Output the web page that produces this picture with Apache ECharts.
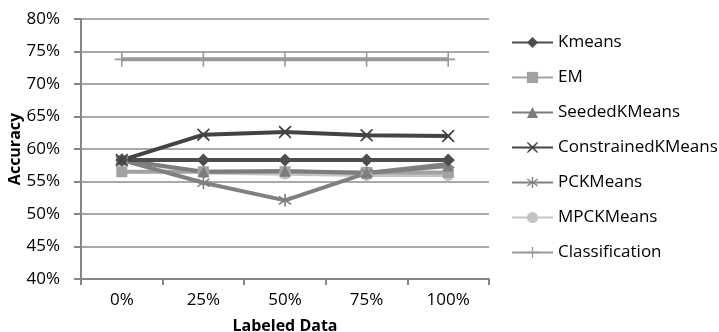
<!DOCTYPE html>
<html>
<head>
<meta charset="utf-8">
<script src="https://cdn.jsdelivr.net/npm/echarts@6/dist/echarts.min.js"></script>
<style>
  html, body { margin: 0; padding: 0; background: #fff; }
  #chart { width: 719px; height: 332px; }
</style>
</head>
<body>
<div id="chart"></div>
<script>
// Accuracy (%) per method at each share of labeled data
const categories = ['0%', '25%', '50%', '75%', '100%'];
const kmeans = [58.3, 58.3, 58.3, 58.3, 58.3];
const em = [56.5, 56.5, 56.5, 56.4, 56.4];
const seededKMeans = [58.3, 56.5, 56.6, 56.3, 57.4];
const constrainedKMeans = [58.3, 62.2, 62.6, 62.1, 62.0];
const pckMeans = [58.3, 54.8, 52.1, 56.3, 57.7];
const mpckMeans = [58.3, 56.4, 56.2, 56.0, 56.0];
const classification = [73.8, 73.8, 73.8, 73.8, 73.8];

// Marker shapes
const crossPath = 'path://M1,0L6,4.6L11,0L12,1L7.4,6L12,11L11,12L6,7.4L1,12L0,11L4.6,6L0,1Z';
const starPath = 'path://M5.3,0H6.7V4.8L10.9,1.8L11.7,2.9L7.6,6L11.7,9.1L10.9,10.2L6.7,7.2V12H5.3V7.2L1.1,10.2L0.3,9.1L4.4,6L0.3,2.9L1.1,1.8L5.3,4.8Z';
const plusPath = 'path://M6.2,0H7.8V6.2H14V7.8H7.8V14H6.2V7.8H0V6.2H6.2Z';

const FONT = 'Open Sans, Liberation Sans, sans-serif';

function line(name, data, color, symbol, size, width) {
  return {
    name, type: 'line', data,
    symbol, symbolSize: size,
    showAllSymbol: true,
    lineStyle: { color, width: width || 4 },
    itemStyle: { color, borderWidth: 0 },
    emphasis: { disabled: true },
    animation: false
  };
}

const chart = echarts.init(document.getElementById('chart'));
chart.setOption({
  backgroundColor: '#ffffff',
  textStyle: { fontFamily: FONT },
  grid: { left: 81, right: 230, top: 19, bottom: 53, containLabel: false, outerBoundsMode: 'none' },
  legend: {
    orient: 'vertical',
    left: 511,
    top: 34,
    padding: 0,
    itemWidth: 41,
    itemHeight: 14,
    itemGap: 18,
    textStyle: { fontSize: 17, fontFamily: FONT, color: '#000' },
    data: ['Kmeans', 'EM', 'SeededKMeans', 'ConstrainedKMeans', 'PCKMeans', 'MPCKMeans', 'Classification']
  },
  xAxis: {
    type: 'category',
    data: categories,
    boundaryGap: true,
    name: 'Labeled Data',
    nameLocation: 'middle',
    nameGap: 39,
    nameTextStyle: { fontSize: 16, fontWeight: 'bold', color: '#000', fontFamily: FONT },
    axisLine: { lineStyle: { color: '#868686', width: 2 } },
    axisTick: { show: true, length: 6, interval: 0, lineStyle: { color: '#868686', width: 2 } },
    axisLabel: { fontSize: 17, color: '#000', margin: 13, fontFamily: FONT },
    splitLine: { show: false }
  },
  yAxis: {
    type: 'value',
    min: 40, max: 80, interval: 5,
    name: 'Accuracy',
    nameLocation: 'middle',
    nameMoveOverlap: false,
    nameGap: 58,
    nameTextStyle: { fontSize: 16, fontWeight: 'bold', color: '#000', fontFamily: FONT },
    axisLine: { show: true, lineStyle: { color: '#868686', width: 2 } },
    axisTick: { show: true, length: 7, lineStyle: { color: '#868686', width: 2 } },
    axisLabel: { fontSize: 17, color: '#000', margin: 21, formatter: '{value}%', fontFamily: FONT },
    splitLine: { lineStyle: { color: '#8c8c8c', width: 1.5 } }
  },
  series: [
    line('Classification', classification, '#999999', plusPath, [14, 15], 4),
    line('MPCKMeans', mpckMeans, '#c4c4c4', 'circle', 12),
    line('EM', em, '#a2a2a2', 'rect', 11),
    line('SeededKMeans', seededKMeans, '#7d7d7d', 'triangle', 11),
    line('PCKMeans', pckMeans, '#808080', starPath, 13),
    line('Kmeans', kmeans, '#4d4d4d', 'diamond', 13),
    line('ConstrainedKMeans', constrainedKMeans, '#434343', crossPath, 13)
  ]
});
</script>
</body>
</html>
